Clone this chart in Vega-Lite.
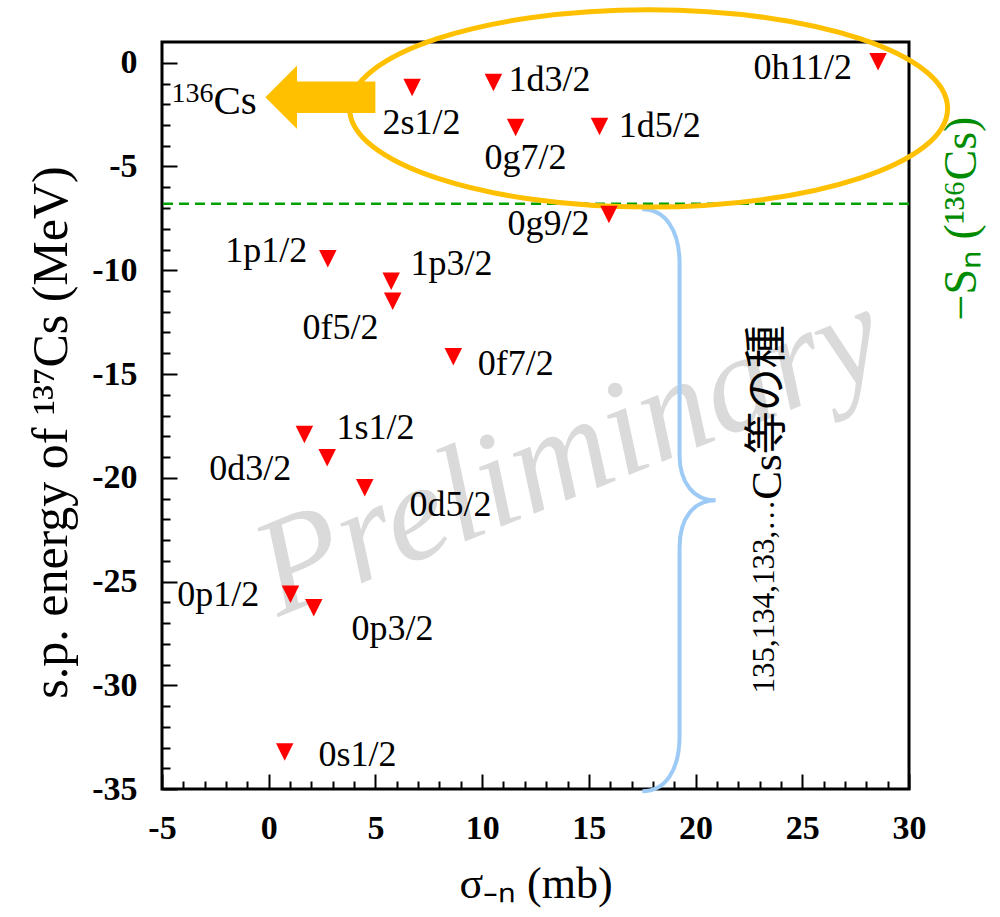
{
  "$schema": "https://vega.github.io/schema/vega-lite/v6.json",
  "width": 747,
  "height": 747,
  "autosize": {"type": "none"},
  "padding": {"left": 162, "top": 42, "right": 91, "bottom": 128},
  "background": "white",
  "config": {
    "view": {"stroke": "black", "strokeWidth": 3},
    "axis": {"domain": false, "grid": false, "labelFont": "Liberation Serif", "titleFont": "Liberation Serif", "labelColor": "black", "titleColor": "black", "tickColor": "black", "titleFontWeight": "normal"}
  },
  "datasets": {
    "levels": [
      {"level": "2s1/2", "sigma": 6.72, "energy": -1.19, "label_sigma": 7.16, "label_energy": -2.9},
      {"level": "1d3/2", "sigma": 10.53, "energy": -0.95, "label_sigma": 13.16, "label_energy": -0.85},
      {"level": "0g7/2", "sigma": 11.57, "energy": -3.12, "label_sigma": 12.03, "label_energy": -4.61},
      {"level": "1d5/2", "sigma": 15.5, "energy": -3.07, "label_sigma": 18.32, "label_energy": -3.07},
      {"level": "0h11/2", "sigma": 28.55, "energy": 0.05, "label_sigma": 25.02, "label_energy": -0.27},
      {"level": "0g9/2", "sigma": 15.94, "energy": -7.31, "label_sigma": 13.11, "label_energy": -7.79},
      {"level": "1p1/2", "sigma": 2.77, "energy": -9.45, "label_sigma": -0.11, "label_energy": -9.05},
      {"level": "1p3/2", "sigma": 5.74, "energy": -10.53, "label_sigma": 8.57, "label_energy": -9.72},
      {"level": "0f5/2", "sigma": 5.81, "energy": -11.49, "label_sigma": 3.36, "label_energy": -12.76},
      {"level": "0f7/2", "sigma": 8.65, "energy": -14.17, "label_sigma": 11.57, "label_energy": -14.54},
      {"level": "1s1/2", "sigma": 1.67, "energy": -17.91, "label_sigma": 5.0, "label_energy": -17.58},
      {"level": "0d3/2", "sigma": 2.74, "energy": -19.04, "label_sigma": -0.86, "label_energy": -19.6},
      {"level": "0d5/2", "sigma": 4.5, "energy": -20.48, "label_sigma": 8.52, "label_energy": -21.29},
      {"level": "0p1/2", "sigma": 1.02, "energy": -25.62, "label_sigma": -2.36, "label_energy": -25.67},
      {"level": "0p3/2", "sigma": 2.11, "energy": -26.27, "label_sigma": 5.8, "label_energy": -27.31},
      {"level": "0s1/2", "sigma": 0.75, "energy": -33.22, "label_sigma": 4.16, "label_energy": -33.38}
    ],
    "separation": [{"Sn": -6.8}],
    "watermark": [{"text": "Preliminary", "sigma": 14.1, "energy": -18.9}],
    "ellipse": [{"group": "136Cs levels", "sigma": 17.8, "energy": -2.2}],
    "arrow": [{"target": "136Cs", "sigma": 2.42, "energy": -1.66}],
    "isotope": [{"mass": "136", "element": "Cs", "sigma": -2.59, "energy_mass": -1.87, "energy_element": -2.49}],
    "brace": [{"group": "deep levels", "sigma": 19.25, "energy": -21.09}],
    "seeds": [{"masses": "135,134,133,…", "rest": "Cs等の種", "sigma_masses": 23.66, "sigma_rest": 23.98, "energy": -21.06}]
  },
  "layer": [
    {
      "data": {"name": "watermark"},
      "mark": {"type": "text", "font": "Liberation Serif", "fontStyle": "italic", "fontSize": 138, "angle": -22, "color": "#DADADA", "align": "center", "baseline": "middle"},
      "encoding": {
        "x": {"field": "sigma", "type": "quantitative", "scale": {"domain": [-5, 30], "nice": false, "zero": false},
          "axis": {"orient": "bottom", "values": [-4,-3,-2,-1,1,2,3,4,6,7,8,9,11,12,13,14,16,17,18,19,21,22,23,24,26,27,28,29], "labels": false, "ticks": true, "tickSize": -8, "tickWidth": 2, "title": null}},
        "y": {"field": "energy", "type": "quantitative", "scale": {"domain": [-35, 1], "nice": false, "zero": false},
          "axis": {"orient": "left", "values": [-34,-33,-32,-31,-29,-28,-27,-26,-24,-23,-22,-21,-19,-18,-17,-16,-14,-13,-12,-11,-9,-8,-7,-6,-4,-3,-2,-1], "labels": false, "ticks": true, "tickSize": -8, "tickWidth": 2, "title": null}},
        "text": {"field": "text"}
      }
    },
    {
      "data": {"name": "separation"},
      "mark": {"type": "rule", "color": "#00A000", "strokeWidth": 2.5, "strokeDash": [10, 6]},
      "encoding": {
        "y": {"field": "Sn", "type": "quantitative", "scale": {"domain": [-35, 1], "nice": false, "zero": false},
          "axis": {"orient": "right", "labels": false, "ticks": false, "title": "−Sₙ (¹³⁶Cs)", "titleFont": "Liberation Serif", "titleColor": "#008C00", "titleFontSize": 46, "titleAngle": -90, "titleX": 66, "titleY": 176, "titleBaseline": "alphabetic", "titleAlign": "center"}}
      }
    },
    {
      "data": {"name": "brace"},
      "mark": {"type": "point", "shape": "M-0.128,-1C-0.05,-1,0,-0.93,0,-0.814L0,-0.155C0,-0.06,0.05,0,0.124,0C0.05,0,0,0.06,0,0.162L0,0.808C0,0.93,-0.05,1,-0.128,1", "size": 338724, "filled": false, "color": "#9ECBF5", "strokeWidth": 4, "opacity": 1},
      "encoding": {
        "x": {"field": "sigma", "type": "quantitative", "scale": {"domain": [-5, 30], "nice": false, "zero": false}, "axis": null},
        "y": {"field": "energy", "type": "quantitative", "scale": {"domain": [-35, 1], "nice": false, "zero": false}, "axis": null}
      }
    },
    {
      "data": {"name": "ellipse"},
      "mark": {"type": "point", "shape": "M-1,0C-1,-0.182,-0.5523,-0.33,0,-0.33C0.5523,-0.33,1,-0.182,1,0C1,0.182,0.5523,0.33,0,0.33C-0.5523,0.33,-1,0.182,-1,0Z", "size": 357604, "filled": false, "color": "#FFC000", "strokeWidth": 5, "opacity": 1},
      "encoding": {
        "x": {"field": "sigma", "type": "quantitative", "scale": {"domain": [-5, 30], "nice": false, "zero": false}, "axis": null},
        "y": {"field": "energy", "type": "quantitative", "scale": {"domain": [-35, 1], "nice": false, "zero": false}, "axis": null}
      }
    },
    {
      "data": {"name": "arrow"},
      "mark": {"type": "point", "shape": "M-1,0L-0.424,-0.576L-0.424,-0.287L1,-0.287L1,0.287L-0.424,0.287L-0.424,0.576Z", "size": 12100, "filled": true, "color": "#FFC000", "strokeWidth": 0, "opacity": 1},
      "encoding": {
        "x": {"field": "sigma", "type": "quantitative", "scale": {"domain": [-5, 30], "nice": false, "zero": false}, "axis": null},
        "y": {"field": "energy", "type": "quantitative", "scale": {"domain": [-35, 1], "nice": false, "zero": false}, "axis": null}
      }
    },
    {
      "data": {"name": "isotope"},
      "mark": {"type": "text", "font": "Liberation Serif", "fontSize": 28, "align": "right", "baseline": "alphabetic", "color": "black"},
      "encoding": {
        "x": {"field": "sigma", "type": "quantitative", "scale": {"domain": [-5, 30], "nice": false, "zero": false}, "axis": null},
        "y": {"field": "energy_mass", "type": "quantitative", "scale": {"domain": [-35, 1], "nice": false, "zero": false}, "axis": null},
        "text": {"field": "mass"}
      }
    },
    {
      "data": {"name": "isotope"},
      "mark": {"type": "text", "font": "Liberation Serif", "fontSize": 41, "align": "left", "baseline": "alphabetic", "color": "black"},
      "encoding": {
        "x": {"field": "sigma", "type": "quantitative", "scale": {"domain": [-5, 30], "nice": false, "zero": false}, "axis": null},
        "y": {"field": "energy_element", "type": "quantitative", "scale": {"domain": [-35, 1], "nice": false, "zero": false}, "axis": null},
        "text": {"field": "element"}
      }
    },
    {
      "data": {"name": "seeds"},
      "mark": {"type": "text", "font": "Liberation Serif", "fontSize": 31, "align": "right", "baseline": "alphabetic", "angle": -90, "color": "black"},
      "encoding": {
        "x": {"field": "sigma_masses", "type": "quantitative", "scale": {"domain": [-5, 30], "nice": false, "zero": false}, "axis": null},
        "y": {"field": "energy", "type": "quantitative", "scale": {"domain": [-35, 1], "nice": false, "zero": false}, "axis": null},
        "text": {"field": "masses"}
      }
    },
    {
      "data": {"name": "seeds"},
      "mark": {"type": "text", "font": "Liberation Serif, Noto Sans CJK JP", "fontSize": 43, "align": "left", "baseline": "alphabetic", "angle": -90, "color": "black"},
      "encoding": {
        "x": {"field": "sigma_rest", "type": "quantitative", "scale": {"domain": [-5, 30], "nice": false, "zero": false}, "axis": null},
        "y": {"field": "energy", "type": "quantitative", "scale": {"domain": [-35, 1], "nice": false, "zero": false}, "axis": null},
        "text": {"field": "rest"}
      }
    },
    {
      "data": {"name": "levels"},
      "mark": {"type": "point", "shape": "M-1,-1L1,-1L0,1Z", "size": 306, "filled": true, "color": "#FF0000", "strokeWidth": 0, "opacity": 1},
      "encoding": {
        "x": {"field": "sigma", "type": "quantitative", "scale": {"domain": [-5, 30], "nice": false, "zero": false},
          "axis": {"orient": "bottom", "values": [-5, 0, 5, 10, 15, 20, 25, 30], "labelExpr": "'' + datum.value", "labelFont": "Liberation Serif", "labelFontSize": 34, "labelFontWeight": "bold", "labelPadding": 22, "labelBaseline": "top", "labelFlush": false, "labelOverlap": false, "ticks": false, "title": "σ₋ₙ (mb)", "titleFont": "Liberation Serif", "titleFontSize": 44, "titleX": 373.5, "titleY": 108, "titleBaseline": "alphabetic", "titleAlign": "center"}},
        "y": {"field": "energy", "type": "quantitative", "scale": {"domain": [-35, 1], "nice": false, "zero": false},
          "axis": {"orient": "left", "values": [-35, -30, -25, -20, -15, -10, -5, 0], "labelExpr": "'' + datum.value", "labelFont": "Liberation Serif", "labelFontSize": 34, "labelFontWeight": "bold", "labelPadding": 25, "labelFlush": false, "labelOverlap": false, "ticks": false, "title": "s.p. energy of ¹³⁷Cs  (MeV)", "titleFont": "Liberation Serif", "titleFontSize": 50, "titleAngle": -90, "titleX": -96, "titleY": 390, "titleBaseline": "alphabetic", "titleAlign": "center"}}
      }
    },
    {
      "data": {"name": "levels"},
      "mark": {"type": "text", "font": "Liberation Serif", "fontSize": 36, "align": "center", "baseline": "middle", "color": "black"},
      "encoding": {
        "x": {"field": "label_sigma", "type": "quantitative", "scale": {"domain": [-5, 30], "nice": false, "zero": false},
          "axis": {"orient": "bottom", "values": [-5, 0, 5, 10, 15, 20, 25, 30], "labels": false, "ticks": true, "tickSize": -15, "tickWidth": 2, "title": null}},
        "y": {"field": "label_energy", "type": "quantitative", "scale": {"domain": [-35, 1], "nice": false, "zero": false},
          "axis": {"orient": "left", "values": [-35, -30, -25, -20, -15, -10, -5, 0], "labels": false, "ticks": true, "tickSize": -15, "tickWidth": 2, "title": null}},
        "text": {"field": "level"}
      }
    }
  ],
  "resolve": {"axis": {"x": "independent", "y": "independent"}}
}
